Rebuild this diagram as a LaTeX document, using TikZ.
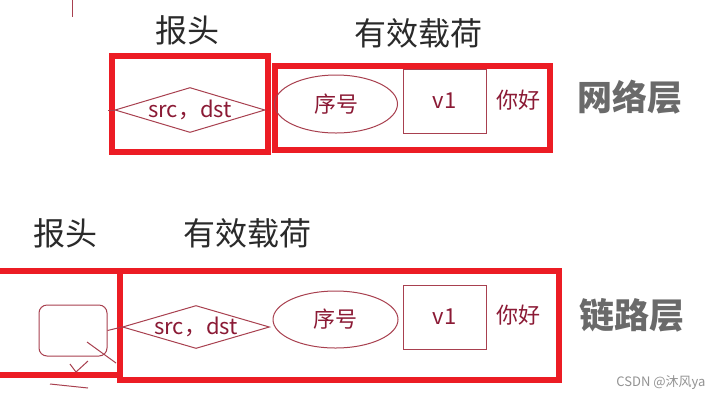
\documentclass[tikz,border=0pt]{standalone}
\usepackage{fontspec}
\newfontfamily\cjk{Noto Sans CJK SC}
\usetikzlibrary{shapes.geometric}
\definecolor{boxred}{HTML}{EC1C24}
\definecolor{lblred}{HTML}{8B1A35}
\definecolor{shpred}{HTML}{A8404F}
\definecolor{titlegray}{HTML}{2A2A2A}
\definecolor{layergray}{HTML}{6A6A6A}
\tikzset{
  redbox/.style={draw=boxred, line width=6.5pt, rectangle, inner sep=0pt},
  shp/.style={draw=shpred, line width=1pt, inner sep=0pt},
  lbl/.style={text=lblred, font=\cjk\fontsize{22}{24}\selectfont, inner sep=0pt},
  title/.style={text=titlegray, font=\cjk\fontsize{32}{36}\selectfont, inner sep=0pt},
  layer/.style={text=layergray, font=\cjk\bfseries\fontsize{35}{38}\selectfont, inner sep=0pt},
  stray/.style={draw=shpred, line width=1pt},
}
\begin{document}
\begin{tikzpicture}[x=1pt,y=-1pt]
\useasboundingbox[fill=white] (0,0) rectangle (722,400);
% ---------- top row (network layer)
\node[title] (t1) at (187,30) {报头};
\node[title] (t2) at (418,33) {有效载荷};
\node[redbox, minimum width=156pt, minimum height=96pt] (hb1) at (190,104) {};
\node[redbox, minimum width=275pt, minimum height=84pt] (pb1) at (412.5,108) {};
\node[shp, diamond, minimum width=150pt, minimum height=45pt, label={[lbl]center:src，dst}] (d1) at (190,110) {};
\node[shp, ellipse, minimum width=123pt, minimum height=58pt, lbl] (e1) at (336,104) {序号};
\node[shp, rectangle, minimum width=83pt, minimum height=64pt, lbl] (v1) at (444.5,101) {v1};
\node[lbl] (n1) at (518,100) {你好};
\node[layer] (l1) at (630,97) {网络层};
\coordinate (m1) at (108,110);
\draw[stray] (m1) -- (d1.west);
\coordinate (s1a) at (72,0);
\coordinate (s1b) at (72,17);
\draw[stray] (s1a) -- (s1b);
% ---------- bottom row (link layer)
\node[title] (t3) at (65,233) {报头};
\node[title] (t4) at (247,233) {有效载荷};
\node[redbox, minimum width=140pt, minimum height=104pt] (hb2) at (50,323) {};
\node[redbox, minimum width=439pt, minimum height=109pt] (pb2) at (339.5,325.5) {};
\node[shp, rectangle, rounded corners=8pt, minimum width=68pt, minimum height=51pt] (rr) at (73,330.5) {};
\node[shp, diamond, minimum width=147pt, minimum height=43pt, label={[lbl]center:src，dst}] (d2) at (196,327) {};
\node[shp, ellipse, minimum width=125pt, minimum height=57pt, lbl] (e2) at (335.5,319.5) {序号};
\node[shp, rectangle, minimum width=83pt, minimum height=64pt, lbl] (v2) at (444.5,317) {v1};
\node[lbl] (n2) at (518,315) {你好};
\node[layer] (l2) at (632,315) {链路层};
\node[text=gray!85, font=\cjk\fontsize{13}{14}\selectfont, inner sep=0pt] (wm) at (661,383) {CSDN @沐风ya};
\draw[stray] (rr.east) -- (d2.west);
\coordinate (s2a) at (87,342);
\coordinate (s2b) at (116,363);
\draw[stray] (s2a) -- (s2b);
\coordinate (s3a) at (70,364);
\coordinate (s3b) at (76,372);
\coordinate (s3c) at (88,361);
\draw[stray] (s3a) -- (s3b) -- (s3c);
\coordinate (s4a) at (50,384);
\coordinate (s4b) at (88,388);
\draw[stray] (s4a) -- (s4b);
\end{tikzpicture}
\end{document}
